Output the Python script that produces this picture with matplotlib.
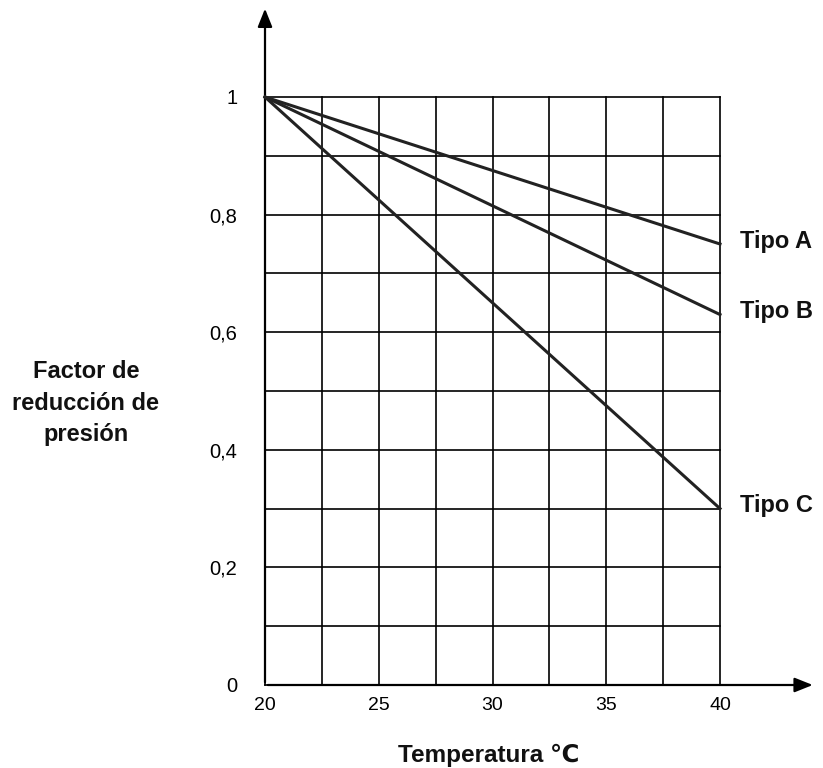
import numpy as np
import matplotlib.pyplot as plt

plt.rcParams['font.family'] = ['Liberation Sans', 'DejaVu Sans']

temperatura = [20, 40]
tipo_a = [1.0, 0.75]
tipo_b = [1.0, 0.63]
tipo_c = [1.0, 0.30]
series = [("Tipo A", tipo_a), ("Tipo B", tipo_b), ("Tipo C", tipo_c)]
x_ticks = [20, 25, 30, 35, 40]
y_ticks = [0, 0.2, 0.4, 0.6, 0.8, 1]
y_tick_labels = ["0", "0,2", "0,4", "0,6", "0,8", "1"]

fig = plt.figure(figsize=(8.23, 7.68), dpi=100)
W, H = 823, 768
ax = fig.add_axes([265 / W, (768 - 685) / H, 455 / W, 588 / H])
ax.set_xlim(20, 40)
ax.set_ylim(0, 1)
for s in ax.spines.values():
    s.set_visible(False)

# grid
for xv in np.arange(20, 40.01, 2.5):
    ax.plot([xv, xv], [0, 1], color="black", lw=1.2, zorder=1, clip_on=False)
for yv in np.arange(0, 1.001, 0.1):
    ax.plot([20, 40], [yv, yv], color="black", lw=1.2, zorder=1, clip_on=False)

# axes with arrows
ax.annotate("", xy=(1.21, 0), xytext=(0, 0), xycoords="axes fraction",
            arrowprops=dict(arrowstyle="-|>,head_length=0.5,head_width=0.2", color="black",
                            lw=1.6, mutation_scale=22))
ax.annotate("", xy=(0, 1.155), xytext=(0, 0), xycoords="axes fraction",
            arrowprops=dict(arrowstyle="-|>,head_length=0.5,head_width=0.2", color="black",
                            lw=1.6, mutation_scale=22))

for name, vals in series:
    ax.plot(temperatura, vals, color="#222222", lw=2.2, zorder=3, clip_on=False)
    ax.text(temperatura[-1] + 0.9, vals[-1] + 0.005, name, fontsize=17, fontweight="bold",
            ha="left", va="center", color="#111111")

ax.set_xticks(x_ticks)
ax.set_xticklabels([str(t) for t in x_ticks], fontsize=14)
ax.set_yticks(y_ticks)
ax.set_yticklabels(y_tick_labels, fontsize=14.5)
ax.tick_params(length=0)
ax.tick_params(axis="x", pad=9)
ax.tick_params(axis="y", pad=20)

fig.text(86 / W, 1 - 403 / H, "Factor de\nreducción de\npresión", fontsize=17,
         fontweight="bold", ha="center", va="center", linespacing=1.45, color="#111111")
fig.text(489 / W, 1 - 755 / H, "Temperatura ℃", fontsize=17.5, fontweight="bold",
         ha="center", va="center", color="#111111")

fig.savefig("out.png", dpi=100)
